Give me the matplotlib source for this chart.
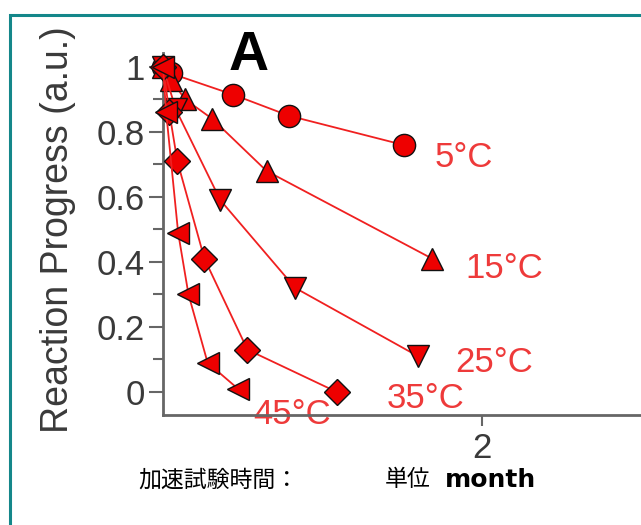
import matplotlib.pyplot as plt
from matplotlib.patches import Rectangle
from matplotlib.ticker import MultipleLocator, FixedLocator

# time in months, progress in a.u.
t_5 = [0.0, 0.05, 0.44, 0.79, 1.51]
p_5 = [1.0, 0.98, 0.915, 0.85, 0.76]
t_15 = [0.0, 0.05, 0.14, 0.31, 0.65, 1.69]
p_15 = [1.0, 0.96, 0.90, 0.84, 0.68, 0.41]
t_25 = [0.0, 0.08, 0.36, 0.83, 1.60]
p_25 = [1.0, 0.87, 0.59, 0.32, 0.11]
t_35 = [0.0, 0.04, 0.09, 0.26, 0.53, 1.09]
p_35 = [1.0, 0.86, 0.71, 0.41, 0.13, 0.0]
t_45 = [0.0, 0.02, 0.095, 0.16, 0.28, 0.47]
p_45 = [1.0, 0.86, 0.49, 0.30, 0.09, 0.01]

series = [(t_5, p_5, 'o', '5°C', (1.89, 0.72)),
          (t_15, p_15, '^', '15°C', (2.14, 0.38)),
          (t_25, p_25, 'v', '25°C', (2.08, 0.09)),
          (t_35, p_35, 'D', '35°C', (1.65, -0.02)),
          (t_45, p_45, '<', '45°C', (0.81, -0.068))]

W, H = 641, 525
fig = plt.figure(figsize=(W / 100, H / 100), dpi=100)
fig.patches.append(Rectangle((10 / W, -0.1), 1.2, (H - 15) / H + 0.1,
                             transform=fig.transFigure, fill=False,
                             ec='#14878a', lw=2.2))

ax = fig.add_axes([163 / W, 110 / H, (W - 163) / W, (415 - 53) / H])
ax.set_xlim(0, 3.0)
ax.set_ylim(-0.071, 1.043)

for t, p, m, lab, pos in series:
    ms = 13 if m == 'D' else 16
    ax.plot(t, p, color='#f02020', lw=1.3, marker=m, ms=ms, mfc='#ee0000',
            mec='#111111', mew=1.0, clip_on=False, zorder=3)
    ax.text(pos[0], pos[1], lab, color='#ee3a3a', fontsize=25,
            family='Liberation Sans', ha='center', va='center', zorder=1)

ax.text(0.54, 1.034, 'A', fontsize=40, fontweight='bold', family='Liberation Sans',
        ha='center', va='center')

for s in ['top', 'right']:
    ax.spines[s].set_visible(False)
for s in ['left', 'bottom']:
    ax.spines[s].set_color('#666666')
    ax.spines[s].set_linewidth(2)
    ax.spines[s].set_zorder(2)

ax.yaxis.set_major_locator(FixedLocator([0, 0.2, 0.4, 0.6, 0.8, 1.0]))
ax.yaxis.set_minor_locator(MultipleLocator(0.1))
ax.set_yticklabels(['0', '0.2', '0.4', '0.6', '0.8', '1'])
ax.xaxis.set_major_locator(FixedLocator([2]))
ax.xaxis.set_minor_locator(FixedLocator([]))
ax.tick_params(axis='both', which='both', colors='#666666', labelcolor='#3a3a3a',
               width=1.5, labelsize=25)
ax.tick_params(axis='y', which='major', length=10, pad=3)
ax.tick_params(axis='y', which='minor', length=7)
ax.tick_params(axis='x', which='major', length=8, pad=4)
for lbl in ax.get_yticklabels() + ax.get_xticklabels():
    lbl.set_family('Liberation Sans')

fig.text(58 / W, 1 - 230 / H, 'Reaction Progress (a.u.)', rotation=90,
         fontsize=27, color='#3a3a3a', family='Liberation Sans',
         ha='center', va='center')

fig.text(138 / W, 1 - 480 / H, '加速試験時間：', fontsize=16.5,
         family=['Noto Sans CJK JP', 'DejaVu Sans'], ha='left', va='center')
fig.text(385 / W, 1 - 480 / H, '単位', fontsize=16.5,
         family=['Noto Sans CJK JP', 'DejaVu Sans'], ha='left', va='center')
fig.text(445 / W, 1 - 480 / H, 'month', fontsize=18, fontweight='bold',
         family=['DejaVu Sans'], ha='left', va='center')

fig.savefig('out.png', dpi=100)
